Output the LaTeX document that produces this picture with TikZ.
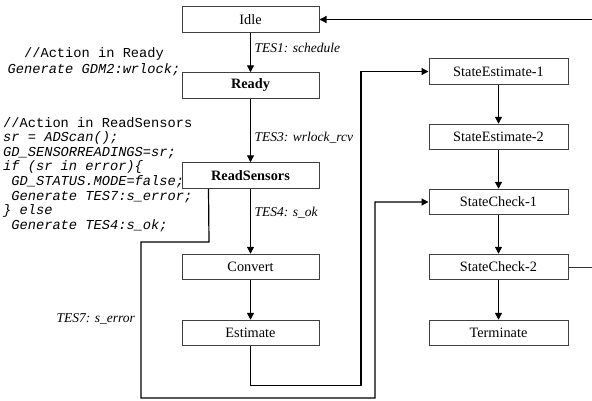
\documentclass[tikz,border=0pt]{standalone}
\usepackage{fontspec}
\setmainfont{Liberation Serif}
\setmonofont{Liberation Mono}
\usetikzlibrary{arrows.meta}
\begin{document}
\begin{tikzpicture}[x=1pt,y=-1pt,
  state/.style={draw=black!75,line width=1pt,minimum height=25.5pt,inner sep=0pt,
    font=\fontsize{14.3}{16}\selectfont},
  lstate/.style={state,minimum width=137pt},
  rstate/.style={state,minimum width=139pt},
  conn/.style={line width=1.2pt,black},
  flow/.style={conn,-{Triangle[length=7pt,width=7pt]}},
  evt/.style={font=\fontsize{13.5}{15}\selectfont\itshape,inner sep=0pt},
  code/.style={font=\ttfamily\fontsize{13.7}{14.6}\selectfont,inner sep=0pt}]
\useasboundingbox (0,0) rectangle (592,400);

% left column
\node[lstate] (idle)  at (250.5,19.5) {Idle};
\node[lstate] (ready) at (250.5,85.5) {\bfseries Ready};
\node[lstate] (rs)    at (250.5,175.5) {\bfseries ReadSensors};
\node[lstate] (conv)  at (250.5,267) {Convert};
\node[lstate] (est)   at (250.5,333) {Estimate};

% right column
\node[rstate] (se1) at (498.5,71.5) {StateEstimate-1};
\node[rstate] (se2) at (498.5,137) {StateEstimate-2};
\node[rstate] (sc1) at (498.5,202) {StateCheck-1};
\node[rstate] (sc2) at (498.5,267) {StateCheck-2};
\node[rstate] (term) at (498.5,333) {Terminate};

% main flow
\draw[flow] (idle) -- (ready);
\draw[flow] (ready) -- (rs);
\draw[flow] (rs) -- (conv);
\draw[flow] (conv) -- (est);
\draw[flow] (se1) -- (se2);
\draw[flow] (se2) -- (sc1);
\draw[flow] (sc1) -- (sc2);
\draw[flow] (sc2) -- (term);

% transition labels
\node[evt,anchor=west] (t1) at (254.5,48) {TES1: schedule};
\node[evt,anchor=west] (t3) at (254.5,137.5) {TES3: wrlock\_rcv};
\node[evt,anchor=west] (t4) at (254.5,212.5) {TES4: s\_ok};
\node[evt,anchor=east] (t7) at (135,319) {TES7: s\_error};

% return path to Idle, leaving the page on the right
\coordinate (backin) at (592,19.5);
\coordinate (backout) at (592,267);
\draw[flow] (backin) -- (idle.east);
\draw[line width=0.8pt,black!80] (sc2.east) -- (backout);

% Estimate -> StateEstimate-1
\draw[flow] (est.south) -- ++(0,39) -| (361,71.5) -- (se1.west);

% error path ReadSensors -> StateCheck-1
\coordinate (rsout) at ([xshift=27pt]rs.south west);
\draw[flow] (rsout) -- (209,242) -- (141,242) -- (141,398) -- (375,398) -- (375,202) -- (sc1.west);

% actions
\node[code,align=center] (readyact) at (94,62)
  {//Action in Ready\\[1.4pt]\itshape Generate GDM2:wrlock;};
\node[code,align=left,anchor=west] (rsact) at (3,174.5)
  {//Action in ReadSensors\\
   \itshape sr = ADScan();\\
   \itshape GD\_SENSORREADINGS=sr;\\
   \itshape if (sr in error)\{\\
   \itshape \phantom{x}GD\_STATUS.MODE=false;\\
   \itshape \phantom{x}Generate TES7:s\_error;\\
   \itshape \} else\\
   \itshape \phantom{x}Generate TES4:s\_ok;};
\end{tikzpicture}
\end{document}
